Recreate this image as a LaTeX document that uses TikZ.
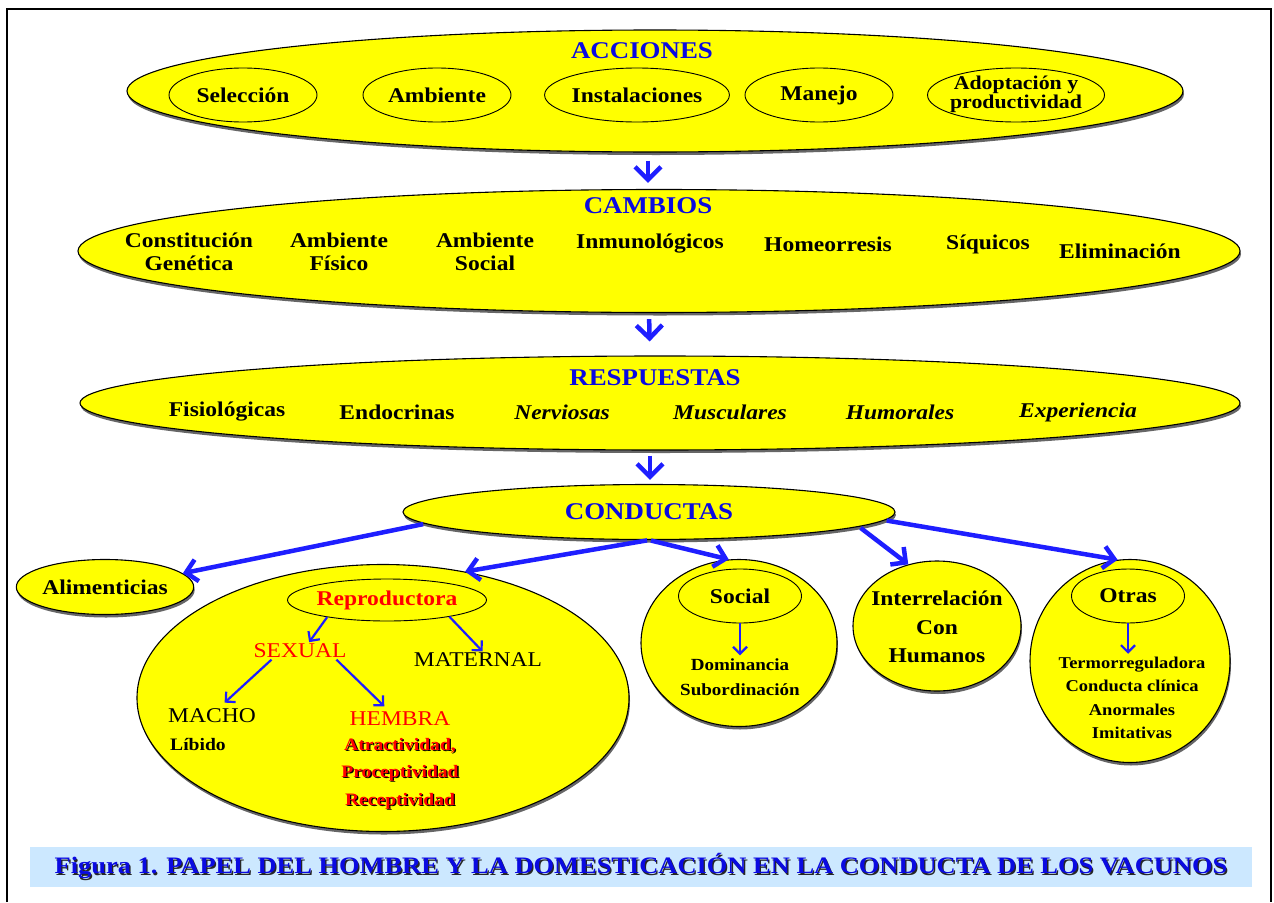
\documentclass[tikz,border=0pt]{standalone}
\usepackage{fontspec}
\setmainfont{Liberation Serif}[FakeStretch=1.12]
\usetikzlibrary{shapes.geometric,arrows.meta,shadows}
\definecolor{ylw}{RGB}{255,255,0}
\definecolor{tblue}{RGB}{10,10,225}
\definecolor{ablue}{RGB}{30,30,255}
\definecolor{capbg}{RGB}{204,232,255}
\definecolor{rred}{RGB}{255,0,0}
\newcommand\shtx[2]{\makebox[0pt][l]{\hspace{1.3pt}\raisebox{-1.3pt}{\textcolor{#1}{#2}}}#2}
\begin{document}
\begin{tikzpicture}[x=1pt,y=-1pt,
  bigell/.style={ellipse, draw=black, line width=1.1pt, fill=ylw, inner sep=0,
     drop shadow={shadow xshift=1pt, shadow yshift=-3pt, fill=black!60, opacity=1}},
  inell/.style={ellipse, draw=black, line width=0.9pt, fill=ylw, inner sep=0},
  ttl/.style={inner sep=0, text=tblue, font=\fontsize{24}{24}\selectfont\bfseries},
  itm/.style={inner sep=0, align=center, font=\fontsize{21}{23}\selectfont\bfseries},
  itmi/.style={inner sep=0, align=center, font=\fontsize{21}{23}\selectfont\bfseries\itshape},
  reg/.style={inner sep=0, font=\fontsize{21}{23}\selectfont},
  sml/.style={inner sep=0, align=center, font=\fontsize{17.5}{27.5}\selectfont\bfseries},
  lst/.style={inner sep=0, align=center, font=\fontsize{16.5}{23.5}\selectfont\bfseries},
  bigarr/.style={draw=ablue, line width=4.5pt, -{Straight Barb[length=13pt, width=26pt]}},
  midarr/.style={draw=ablue, line width=4.5pt, -{Straight Barb[length=11pt, width=22pt]}},
  thinarr/.style={draw=ablue, line width=2.2pt, -{Straight Barb[length=7pt, width=14pt]}}
]
\useasboundingbox (0,0) rectangle (1274,902);
\fill[white] (0,0) rectangle (1274,902);
\draw[line width=1.3pt] (7,902) -- (7,9) -- (1271,9) -- (1271,902);

% ACCIONES
\node[bigell, minimum width=1056, minimum height=122] (acc) at (655,91) {};
\node[ttl] (acct) at (642,51) {ACCIONES};
\node[inell, itm, minimum width=148, minimum height=54] (sel) at (243,95) {Selección};
\node[inell, itm, minimum width=148, minimum height=54] (amb) at (437,95) {Ambiente};
\node[inell, itm, minimum width=150, minimum height=54] (ins) at (637,95) {Instalaciones};
\node[inell, itm, minimum width=148, minimum height=54] (man) at (819,95) {Manejo};
\node[inell, minimum width=177, minimum height=54] (ado) at (1016,95) {};
\node[inner sep=0, align=center, font=\fontsize{19.5}{15.5}\selectfont\bfseries] (adot) at (1016,94) {Adoptación y\\productividad};

% CAMBIOS
\node[bigell, minimum width=1162, minimum height=123] (cam) at (659,251) {};
\node[ttl] (camt) at (648,206) {CAMBIOS};
\node[itm] (c1) at (189,252) {Constitución\\Genética};
\node[itm] (c2) at (339,252) {Ambiente\\Físico};
\node[itm] (c3) at (485,252) {Ambiente\\Social};
\node[itm] (c4) at (650,244) {Inmunológicos};
\node[itm] (c5) at (828,244) {Homeorresis};
\node[itm] (c6) at (988,244) {Síquicos};
\node[itm] (c7) at (1120,251) {Eliminación};

% RESPUESTAS
\node[bigell, minimum width=1160, minimum height=94] (res) at (660,403) {};
\node[ttl] (rest) at (655,378) {RESPUESTAS};
\node[itm] (r1) at (227,412) {Fisiológicas};
\node[itm] (r2) at (397,412) {Endocrinas};
\node[itmi] (r3) at (562,412) {Nerviosas};
\node[itmi] (r4) at (730,412) {Musculares};
\node[itmi] (r5) at (900,412) {Humorales};
\node[itmi] (r6) at (1078,412) {Experiencia};

% CONDUCTAS
\node[bigell, ttl, minimum width=492, minimum height=55] (con) at (649,512) {CONDUCTAS};

% Alimenticias
\node[bigell, itm, minimum width=149, minimum height=55] (ali) at (105,587) {Alimenticias};

% Reproductora
\node[bigell, minimum width=492, minimum height=267] (rep) at (383,698) {};
\node[inell, itm, text=rred, minimum width=190, minimum height=42] (repin) at (387,600) {Reproductora};
\node[reg, text=rred] (sex) at (300,651) {SEXUAL};
\node[reg] (mat) at (478,660) {MATERNAL};
\node[reg] (mac) at (212,716) {MACHO};
\node[sml] (lib) at (198,744) {Líbido};
\node[reg, text=rred] (hem) at (400,719) {HEMBRA};
\node[sml, text=rred] (hl) at (400,774) {\shtx{black}{Atractividad,}\\\shtx{black}{Proceptividad}\\\shtx{black}{Receptividad}};

% Social
\node[bigell, minimum width=196, minimum height=167] (soc) at (739,643) {};
\node[inell, itm, minimum width=123, minimum height=54] (socin) at (740,596) {Social};
\node[lst, font=\fontsize{17}{25}\selectfont\bfseries] (dom) at (740,677) {Dominancia\\Subordinación};

% Interrelacion
\node[bigell, minimum width=168, minimum height=130] (int) at (937,626) {};
\node[inner sep=0, align=center, font=\fontsize{21}{28.5}\selectfont\bfseries] (intt) at (937,627) {Interrelación\\Con\\Humanos};

% Otras
\node[bigell, minimum width=200, minimum height=203] (ot) at (1130,661) {};
\node[inell, itm, minimum width=113, minimum height=54] (otin) at (1128,596) {Otras};
\node[lst] (otl) at (1132,698) {Termorreguladora\\Conducta clínica\\Anormales\\Imitativas};

% main arrows
\draw[bigarr, shorten <=8pt, shorten >=6pt] ([xshift=-7pt]acc.south) -- ([xshift=-11pt]cam.north);
\draw[bigarr, shorten <=6pt, shorten >=14pt] ([xshift=-10pt]cam.south) -- ([xshift=-10pt]res.north);
\draw[bigarr, shorten <=5pt, shorten >=4pt] ([xshift=-10pt]res.south) -- ([xshift=1pt]con.north);

% CONDUCTAS arrows
\draw[midarr, shorten <=2pt] (con.183) -- (ali.10);
\draw[midarr, shorten <=2pt] (con.south) -- (rep.57);
\draw[midarr, shorten <=2pt] (con.south) -- (soc.97);
\draw[midarr, shorten <=2pt] (con.-4) -- (int.115);
\draw[midarr, shorten <=2pt] (con.-2) -- (ot.97);

% inner arrows
\draw[thinarr, shorten >=2pt] (repin.196) -- ([xshift=8pt]sex.north);
\draw[thinarr, shorten >=2pt] (repin.-15) -- ([xshift=6pt]mat.north);
\draw[thinarr, shorten <=2pt, shorten >=9pt] ([xshift=-27pt]sex.south) -- ([xshift=6pt]mac.north);
\draw[thinarr, shorten <=2pt, shorten >=8pt] ([xshift=35pt]sex.south) -- ([xshift=-10pt]hem.north);
\draw[thinarr, shorten >=3pt] (socin.south) -- (dom.north);
\draw[thinarr, shorten >=3pt] (otin.south) -- ([xshift=-4pt]otl.north);

% caption
\node[fill=capbg, minimum width=1222, minimum height=40, inner sep=0, text=tblue,
      font=\fontsize{23.6}{23.6}\selectfont\bfseries] (cap) at (641,867)
  {\shtx{black!85}{Figura 1. PAPEL DEL HOMBRE Y LA DOMESTICACIÓN EN LA CONDUCTA DE LOS VACUNOS}};
\end{tikzpicture}
\end{document}
